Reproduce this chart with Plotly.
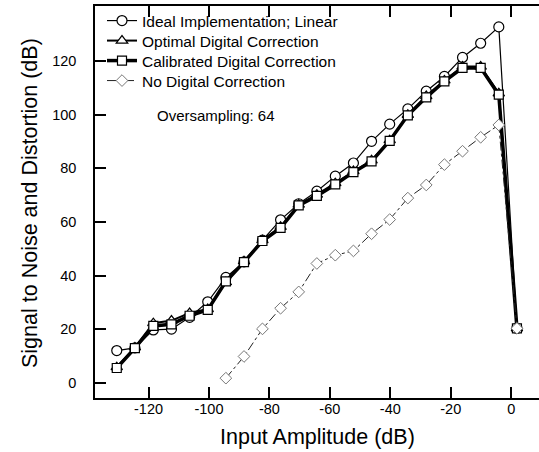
import plotly.graph_objects as go

# Input amplitude (dB)
x_amp = [-130.5, -124.5, -118.4, -112.4, -106.4, -100.4, -94.4, -88.4, -82.3, -76.3,
         -70.3, -64.3, -58.2, -52.2, -46.2, -40.2, -34.2, -28.1, -22.1, -16.1,
         -10.1, -4.1, 1.9]

ideal = [12.0, 13.0, 19.7, 20.0, 24.4, 30.2, 39.3, 45.1, 53.2, 60.8,
         66.8, 71.5, 77.1, 82.0, 90.1, 96.5, 102.2, 108.8, 114.3, 121.4,
         126.7, 132.8, 20.3]

optimal = [5.8, 13.2, 22.2, 23.2, 26.0, 27.5, 37.5, 45.3, 53.2, 58.2,
           66.5, 70.2, 74.5, 79.0, 83.0, 90.5, 100.0, 107.0, 112.8, 118.0,
           118.0, 108.0, 20.3]

calibrated = [5.5, 12.9, 21.2, 21.8, 25.0, 27.2, 37.8, 45.0, 52.9, 57.8,
              66.2, 69.7, 74.0, 78.6, 82.6, 90.3, 99.8, 106.5, 112.5, 117.5,
              117.5, 107.5, 20.3]

no_corr = [None, None, None, None, None, None, 1.7, 9.8, 20.1, 27.8,
           33.9, 44.5, 47.6, 49.2, 55.6, 60.9, 68.9, 73.8, 81.4, 86.4,
           91.6, 96.2, 20.3]

names = ["Ideal Implementation; Linear", "Optimal Digital Correction",
         "Calibrated Digital Correction", "No Digital Correction"]

x_ticks = [-120, -100, -80, -60, -40, -20, 0]
x_ticktext = ["-120", "-100", "-80", "-60", "-40", "-20", "0"]
y_ticks = [0, 20, 40, 60, 80, 100, 120]
y_ticktext = ["0", "20", "40", "60", "80", "100", "120"]

FONT = "Liberation Sans, Arial, Helvetica, sans-serif"
W, H = 539, 452
ML, MR, MT, MB = 95, 0, 6, 54
PW, PH = W - ML - MR, H - MT - MB


def px_x(p):
    return (p - ML) / PW


def px_y(p):
    return 1 - (p - MT) / PH


styles = [
    dict(line=dict(color="black", width=1.2),
         marker=dict(symbol="circle", size=10, color="white", line=dict(color="black", width=1.2))),
    dict(line=dict(color="black", width=2),
         marker=dict(symbol="triangle-up", size=10, color="white", line=dict(color="black", width=1.2))),
    dict(line=dict(color="black", width=3.5),
         marker=dict(symbol="square", size=9, color="white", line=dict(color="black", width=1.2))),
    dict(line=dict(color="#222", width=1, dash="dashdot"),
         marker=dict(symbol="diamond", size=9, color="white", line=dict(color="#777", width=1))),
]
series = [ideal, optimal, calibrated, no_corr]
legend_ids = ["legend", "legend2", "legend3", "legend4"]
legend_rows = [21, 41, 61, 81]

fig = go.Figure()
for nm, ys, st, lg in zip(names, series, styles, legend_ids):
    fig.add_trace(go.Scatter(x=x_amp, y=ys, name=nm, mode="lines+markers",
                             legend=lg, **st))

fig.add_annotation(text="Oversampling: 64", xref="paper", yref="paper",
                   x=px_x(155), y=px_y(115), xanchor="left", yanchor="middle",
                   showarrow=False, font=dict(family=FONT, size=15, color="black"))
fig.add_annotation(text="Input Amplitude (dB)", xref="paper", yref="paper",
                   x=px_x(317), y=px_y(437), xanchor="center", yanchor="middle",
                   showarrow=False, font=dict(family=FONT, size=21.5, color="black"))
fig.add_annotation(text="Signal to Noise and Distortion (dB)", xref="paper", yref="paper",
                   x=px_x(30), y=px_y(203), xanchor="center", yanchor="middle", textangle=-90,
                   showarrow=False, font=dict(family=FONT, size=21.5, color="black"))

legend_layout = {}
for lg, row in zip(legend_ids, legend_rows):
    legend_layout[lg] = dict(x=px_x(102), y=px_y(row), xanchor="left", yanchor="middle",
                             bgcolor="rgba(0,0,0,0)",
                             font=dict(family=FONT, size=15.5, color="black"))

fig.update_layout(
    width=W, height=H,
    margin=dict(l=ML, r=MR, t=MT, b=MB, autoexpand=False),
    paper_bgcolor="white", plot_bgcolor="white",
    font=dict(family=FONT, color="black"),
    showlegend=True,
    xaxis=dict(range=[-137.7, 9.2], tickvals=x_ticks, ticktext=x_ticktext,
               ticks="inside", ticklen=11, tickwidth=2, tickcolor="black",
               showline=True, linecolor="black", linewidth=1.5, mirror="ticks",
               showgrid=False, zeroline=False, automargin=False,
               tickfont=dict(family=FONT, size=14.5, color="black"),
               ticklabelstandoff=-3),
    yaxis=dict(range=[-5.7, 140.6], tickvals=y_ticks, ticktext=y_ticktext,
               ticks="inside", ticklen=11, tickwidth=2, tickcolor="black",
               showline=True, linecolor="black", linewidth=1.5, mirror=False,
               showgrid=False, zeroline=False, automargin=False,
               tickfont=dict(family=FONT, size=14.5, color="black"),
               ticklabelstandoff=14),
    yaxis2=dict(range=[-5.7, 140.6], overlaying="y", side="right", tickvals=y_ticks,
                ticks="inside", ticklen=11, tickwidth=2, tickcolor="black", automargin=False,
                showticklabels=False, showline=False, showgrid=False, zeroline=False),
    **legend_layout,
)

fig.write_html("out.html", config={"displayModeBar": False},
               post_script="document.body.style.margin='0';document.body.style.overflow='hidden';")
